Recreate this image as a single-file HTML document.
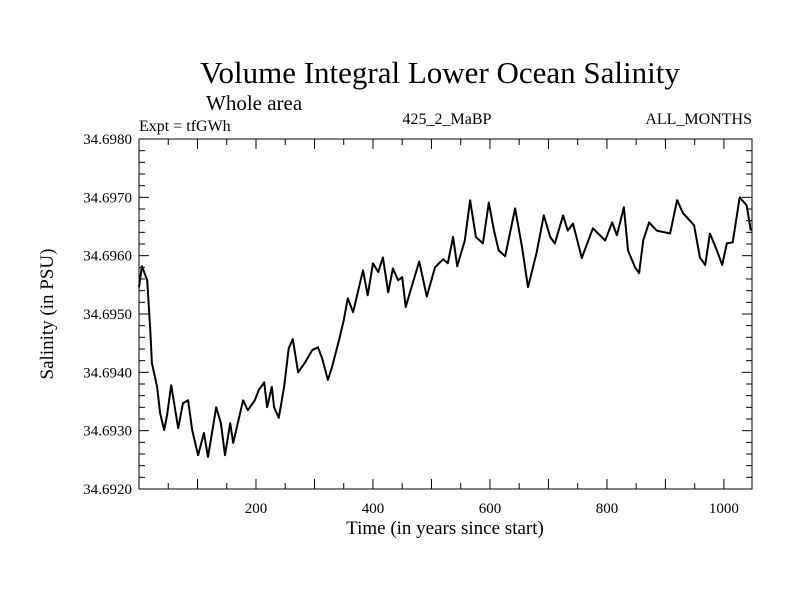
<!DOCTYPE html>
<html><head><meta charset="utf-8"><style>
body{margin:0;background:#fff}
svg{display:block;font-family:"Liberation Serif",serif}
</style></head><body>
<svg id="chart" width="800" height="600" viewBox="0 0 800 600">
<text x="440" y="83" font-size="31" text-anchor="middle">Volume Integral Lower Ocean Salinity</text>
<text x="206" y="110" font-size="21">Whole area</text>
<text x="139" y="131" font-size="16">Expt = tfGWh</text>
<text x="447" y="124" font-size="16" text-anchor="middle">425_2_MaBP</text>
<text x="752" y="124" font-size="16" text-anchor="end">ALL_MONTHS</text>
<text transform="translate(53,314) rotate(-90)" font-size="19" text-anchor="middle">Salinity (in PSU)</text>
<text x="445" y="534" font-size="19" text-anchor="middle">Time (in years since start)</text>
<g id="axes"></g>
<path id="series" fill="none" stroke="#000" stroke-width="2" stroke-linejoin="round"/>
<rect x="139" y="139" width="613" height="350" fill="none" stroke="#000" stroke-width="1"/>
</svg>
<script>
const years=[0,5,14,19,22,31,36,43,48,55,67,75,84,91,101,111,118,132,140,147,156,161,178,186,198,205,214,219,227,231,239,248,256,263,272,284,296,306,313,323,330,342,350,357,366,383,391,400,409,417,426,434,443,450,456,463,479,492,506,520,528,537,544,557,566,576,588,598,607,615,626,643,655,665,680,692,703,711,725,733,742,757,776,797,809,817,829,836,848,855,862,872,885,908,920,930,949,959,968,976,988,997,1005,1015,1027,1039,1046];
const salinity=[34.69546,34.69582,34.69558,34.69477,34.69416,34.69375,34.69330,34.69301,34.69327,34.69378,34.69304,34.69347,34.69352,34.69301,34.69258,34.69296,34.69255,34.69340,34.69313,34.69258,34.69313,34.69279,34.69352,34.69335,34.69352,34.69370,34.69383,34.69340,34.69375,34.69340,34.69322,34.69375,34.69441,34.69457,34.69400,34.69417,34.69438,34.69443,34.69424,34.69387,34.69409,34.69455,34.69489,34.69527,34.69503,34.69575,34.69532,34.69587,34.69572,34.69597,34.69537,34.69578,34.69558,34.69563,34.69512,34.69536,34.69590,34.69530,34.69580,34.69594,34.69587,34.69632,34.69582,34.69626,34.69695,34.69632,34.69621,34.69691,34.69643,34.69609,34.69599,34.69681,34.69614,34.69546,34.69606,34.69669,34.69632,34.69621,34.69669,34.69643,34.69655,34.69596,34.69647,34.69626,34.69657,34.69635,34.69683,34.69609,34.69580,34.69570,34.69626,34.69657,34.69643,34.69638,34.69695,34.69673,34.69652,34.69597,34.69584,34.69638,34.69609,34.69584,34.69621,34.69623,34.69700,34.69686,34.69643];
const xTicks=[200,400,600,800,1000];
const yTicks=["34.6920","34.6930","34.6940","34.6950","34.6960","34.6970","34.6980"];
const xMin=0,xMax=1048,yMin=34.692,yMax=34.698;
const L=139,R=752,T=139,B=489;
function sx(v){return L+(v-xMin)/(xMax-xMin)*(R-L);}
function sy(v){return B-(v-yMin)/(yMax-yMin)*(B-T);}
const NS="http://www.w3.org/2000/svg";
const g=document.getElementById('axes');
function line(x1,y1,x2,y2,name){const l=document.createElementNS(NS,'line');
l.setAttribute('x1',x1);l.setAttribute('y1',y1);l.setAttribute('x2',x2);l.setAttribute('y2',y2);
l.setAttribute('stroke','#000');l.setAttribute('stroke-width','1');


g.appendChild(l);}
function txt(x,y,s,anchor,name){const t=document.createElementNS(NS,'text');
t.setAttribute('x',x);t.setAttribute('y',y);t.setAttribute('font-size','15');t.setAttribute('text-anchor',anchor);t.textContent=s;


g.appendChild(t);}
for(let v=50;v<xMax;v+=50){const x=sx(v);const major=v%100===0;const len=major?10:6;
line(x,B,x,B-len,'x-tick');line(x,T,x,T+len,'x-tick-top');}
xTicks.forEach(v=>txt(sx(v),513,String(v),'middle','x-tick-label'));
for(let i=0;i<=30;i++){const v=yMin+i*0.0002;const y=sy(v);const major=i%5===0;const len=major?10:6;
line(L,y,L+len,y,'y-tick');line(R,y,R-len,y,'y-tick-right');}
yTicks.forEach(s=>txt(L-7,sy(parseFloat(s))+5,s,'end','y-tick-label'));
let d='';years.forEach((yr,i)=>{d+=(i?'L':'M')+sx(yr).toFixed(1)+','+sy(salinity[i]).toFixed(1);});
document.getElementById('series').setAttribute('d',d);
</script>
</body></html>
